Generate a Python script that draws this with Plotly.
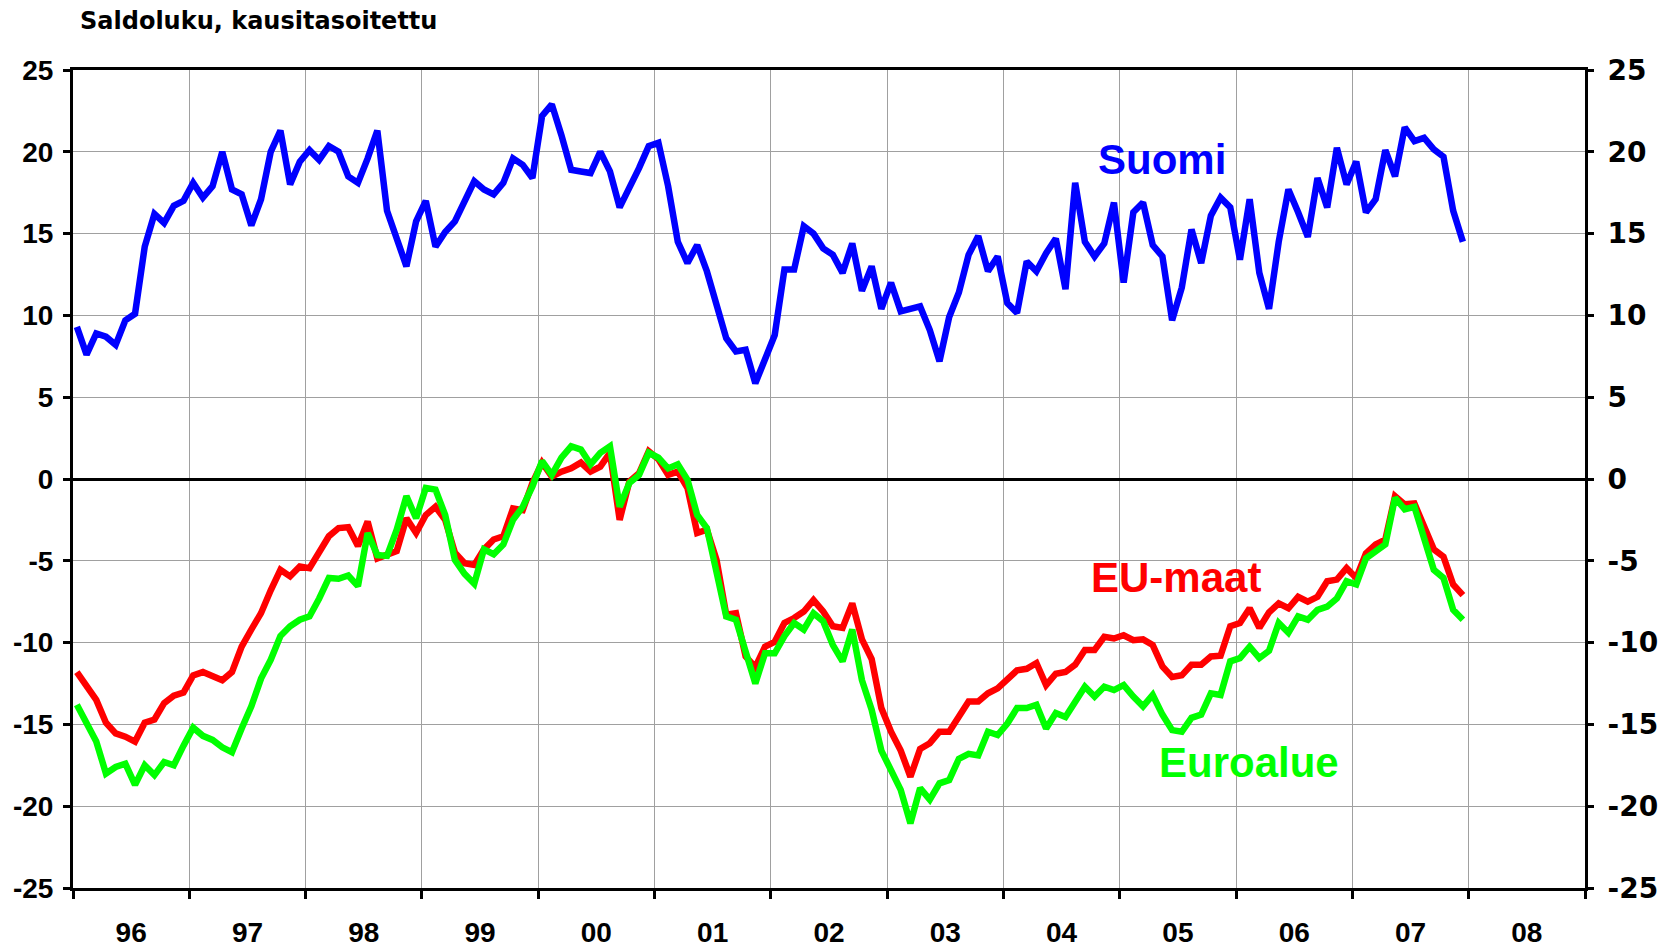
import numpy as np
import plotly.graph_objects as go

# Monthly data Jan 1996 .. Dec 2007 (balance figures, seasonally adjusted)
start_year = 1996
n_months = 144

suomi = [9.3, 7.6, 8.9, 8.7, 8.2, 9.7, 10.1, 14.2, 16.2, 15.65, 16.7, 17.0,
         18.1, 17.2, 17.9, 20.0, 17.7, 17.4, 15.5, 17.1, 20.0, 21.3, 18.0, 19.4,
         20.1, 19.5, 20.35, 20.0, 18.5, 18.1, 19.6, 21.3, 16.4, 14.7, 13.0, 15.75,
         17.0, 14.2, 15.1, 15.75, 16.9, 18.2, 17.7, 17.4, 18.1, 19.6, 19.2, 18.4,
         22.2, 22.9, 21.0, 18.9, 18.8, 18.7, 20.0, 18.8, 16.6, 17.7, 19.0, 20.35,
         20.55, 17.9, 14.5, 13.2, 14.3, 12.7, 10.75, 8.6, 7.8, 7.9, 5.85, 7.3,
         8.8, 12.8, 12.8, 15.45, 15.0, 14.1, 13.7, 12.6, 14.4, 11.5, 13.0, 10.4,
         12.0, 10.25, 10.45, 10.55, 9.1, 7.2, 9.9, 11.4, 13.7, 14.85, 12.7, 13.6,
         10.75, 10.15, 13.3, 12.7, 13.8, 14.7, 11.6, 18.1, 14.5, 13.6, 14.4, 16.9,
         12.0, 16.3, 16.9, 14.3, 13.6, 9.7, 11.7, 15.25, 13.2, 16.1, 17.2, 16.6,
         13.4, 17.1, 12.6, 10.4, 14.5, 17.7, 16.3, 14.8, 18.4, 16.6, 20.25, 18.0,
         19.4, 16.3, 17.1, 20.1, 18.5, 21.5, 20.65, 20.85, 20.15, 19.7, 16.4, 14.5]

eu_maat = [-11.8, -12.7, -13.5, -14.9, -15.55, -15.75, -16.05, -14.9, -14.7, -13.7, -13.25, -13.05,
           -12.0, -11.8, -12.1, -12.3, -11.8, -10.25, -9.2, -8.2, -6.8, -5.55, -5.95, -5.35,
           -5.45, -4.5, -3.5, -3.0, -2.95, -4.1, -2.6, -4.85, -4.6, -4.4, -2.4, -3.3,
           -2.2, -1.7, -2.5, -4.5, -5.15, -5.25, -4.3, -3.7, -3.5, -1.8, -1.9, -0.25,
           1.0, 0.15, 0.45, 0.65, 1.0, 0.45, 0.75, 1.6, -2.5, -0.15, 0.35, 1.7,
           1.2, 0.25, 0.45, -0.55, -3.3, -3.1, -4.95, -8.3, -8.2, -10.85, -11.5, -10.25,
           -9.95, -8.8, -8.5, -8.1, -7.4, -8.1, -9.0, -9.1, -7.6, -9.8, -11.0, -14.0,
           -15.45, -16.6, -18.2, -16.5, -16.15, -15.45, -15.45, -14.5, -13.6, -13.6, -13.1, -12.8,
           -12.2, -11.7, -11.6, -11.25, -12.6, -11.9, -11.8, -11.35, -10.45, -10.45, -9.65, -9.75,
           -9.55, -9.85, -9.8, -10.15, -11.45, -12.1, -12.0, -11.35, -11.35, -10.85, -10.8, -9.0,
           -8.8, -7.9, -9.1, -8.15, -7.6, -7.9, -7.2, -7.5, -7.2, -6.25, -6.15, -5.45,
           -6.05, -4.55, -4.0, -3.7, -1.05, -1.55, -1.5, -2.9, -4.3, -4.75, -6.45, -7.1]

euroalue = [-13.8, -14.9, -16.05, -18.0, -17.6, -17.4, -18.7, -17.5, -18.1, -17.3, -17.5, -16.3,
            -15.2, -15.7, -15.95, -16.4, -16.7, -15.25, -13.9, -12.2, -11.05, -9.6, -9.0, -8.6,
            -8.4, -7.3, -6.05, -6.1, -5.9, -6.55, -3.3, -4.65, -4.7, -3.1, -1.05, -2.4,
            -0.55, -0.65, -2.2, -4.95, -5.8, -6.4, -4.3, -4.6, -4.0, -2.5, -1.7, -0.45,
            1.1, 0.25, 1.3, 2.0, 1.8, 0.9, 1.6, 2.0, -1.7, -0.25, 0.25, 1.6,
            1.3, 0.65, 0.9, -0.05, -2.2, -3.0, -5.55, -8.4, -8.6, -10.45, -12.5, -10.65,
            -10.65, -9.6, -8.8, -9.2, -8.2, -8.7, -10.15, -11.15, -9.2, -12.3, -14.1, -16.6,
            -17.8, -19.0, -21.05, -18.9, -19.6, -18.6, -18.4, -17.1, -16.8, -16.9, -15.45, -15.65,
            -14.95, -14.0, -14.0, -13.8, -15.25, -14.3, -14.55, -13.7, -12.7, -13.3, -12.7, -12.9,
            -12.6, -13.3, -13.9, -13.2, -14.4, -15.35, -15.45, -14.6, -14.4, -13.1, -13.2, -11.15,
            -10.95, -10.25, -10.95, -10.5, -8.8, -9.4, -8.4, -8.6, -8.0, -7.8, -7.3, -6.25,
            -6.45, -4.85, -4.45, -4.0, -1.15, -1.85, -1.7, -3.7, -5.55, -6.05, -8.0, -8.6]

year_labels = ["96", "97", "98", "99", "00", "01", "02", "03", "04", "05", "06", "07", "08"]
y_ticks = [25, 20, 15, 10, 5, 0, -5, -10, -15, -20, -25]
y_ticktext = ["25", "20", "15", "10", "5", "0", "-5", "-10", "-15", "-20", "-25"]

title_text = "Saldoluku, kausitasoitettu"

x = start_year + (np.arange(n_months) + 0.4) / 12.0
year_mid = [start_year + k + 0.5 for k in range(len(year_labels))]

BLUE = "#0000FF"
RED = "#FF0000"
GREEN = "#00FF00"
GRID = "#A0A0A0"
W = 6.5

fig = go.Figure()
fig.add_trace(go.Scatter(x=x, y=eu_maat, mode="lines", name="EU-maat",
                         line=dict(color=RED, width=W), hoverinfo="skip"))
fig.add_trace(go.Scatter(x=x, y=euroalue, mode="lines", name="Euroalue",
                         line=dict(color=GREEN, width=W), hoverinfo="skip"))
fig.add_trace(go.Scatter(x=x, y=suomi, mode="lines", name="Suomi", yaxis="y2",
                         line=dict(color=BLUE, width=W), hoverinfo="skip"))

fig.update_layout(
    width=1663, height=949,
    margin=dict(l=73, r=78, t=70, b=61, pad=0, autoexpand=False),
    paper_bgcolor="white", plot_bgcolor="white",
    showlegend=False,
    xaxis=dict(
        range=[1996, 2009], showgrid=False, zeroline=False, automargin=False,
        tickmode="array", tickvals=year_mid, ticktext=year_labels,
        ticks="", ticklabelstandoff=17,
        tickfont=dict(family="Liberation Sans", size=28, color="black", weight="bold"),
        showline=True, linecolor="black", linewidth=3, mirror=True,
        minor=dict(tick0=1996, dtick=1, ticks="outside", ticklen=8, tickwidth=3,
                   tickcolor="black", showgrid=True, gridcolor=GRID, gridwidth=1),
        fixedrange=True,
    ),
    yaxis=dict(
        range=[-25, 25], tickmode="array", tickvals=y_ticks, ticktext=y_ticktext,
        automargin=False,
        ticks="outside", ticklen=7, tickwidth=3, tickcolor="black",
        ticklabelstandoff=4,
        tickfont=dict(family="Liberation Sans", size=28, color="black", weight="bold"),
        showgrid=True, gridcolor=GRID, gridwidth=1,
        zeroline=True, zerolinecolor="black", zerolinewidth=3,
        showline=True, linecolor="black", linewidth=3,
        fixedrange=True,
    ),
    yaxis2=dict(
        range=[-25, 25], overlaying="y", side="right", automargin=False,
        tickmode="array", tickvals=y_ticks, ticktext=y_ticktext,
        ticks="outside", ticklen=6, tickwidth=3, tickcolor="black",
        ticklabelstandoff=8,
        tickfont=dict(family="DejaVu Sans", size=28, color="black", weight="bold"),
        showgrid=False, zeroline=False,
        showline=True, linecolor="black", linewidth=3,
        fixedrange=True,
    ),
)

fig.add_annotation(text=title_text, xref="paper", yref="paper",
                   x=5 / 1512, y=1 + (70 - 21) / 818, xanchor="left", yanchor="middle",
                   showarrow=False,
                   font=dict(family="DejaVu Sans", size=24, color="black", weight="bold"))

labels = [("Suomi", 2005.366, 19.55, BLUE),
          ("EU-maat", 2005.48, -6.0, RED),
          ("Euroalue", 2006.11, -17.3, GREEN)]
for txt, lx, ly, col in labels:
    fig.add_annotation(text=txt, x=lx, y=ly, xref="x", yref="y",
                       xanchor="center", yanchor="middle", showarrow=False,
                       font=dict(family="Liberation Sans", size=42, color=col, weight="bold"))

fig.write_html("out.html", config={"displayModeBar": False},
               post_script="document.body.style.margin='0';document.body.style.overflow='hidden';")
